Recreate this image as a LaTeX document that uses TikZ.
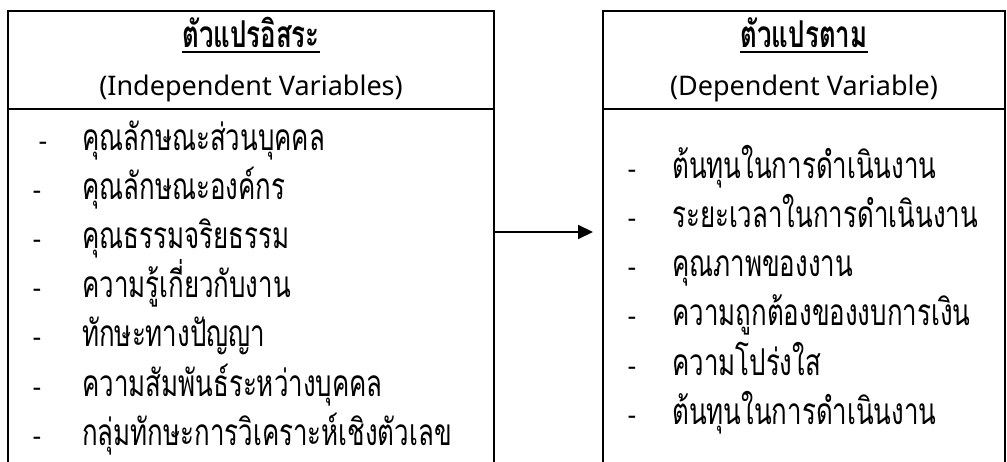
\documentclass[tikz,border=0pt]{standalone}
\usepackage{fontspec}
\setmainfont{Noto Sans}
\newfontfamily\thaifont[Script=Thai,FakeStretch=0.7]{Loma}
\usepackage{tikz}
\usetikzlibrary{arrows.meta}

\begin{document}
\begin{tikzpicture}[x=1pt,y=-1pt,
    item/.style={anchor=base west,inner sep=0pt,font=\thaifont\fontsize{37}{44}\selectfont},
    bullet/.style={anchor=base,inner sep=0pt,font=\fontsize{27}{32}\selectfont},
    head/.style={anchor=base,inner sep=0pt,font=\fontsize{27}{32}\selectfont},
    title/.style={anchor=base,inner sep=0pt,font=\thaifont\bfseries\fontsize{37}{44}\selectfont},
    frame/.style={line width=2pt}]
        \useasboundingbox (0,0) rectangle (1007,462);
        % left box
        \draw[frame] (8,462) -- (8,11) -- (494,11) -- (494,462);
        \draw[frame] (8,109) -- (494,109);
        % right box
        \draw[frame] (603,462) -- (603,11) -- (1005,11) -- (1005,462);
        \draw[frame] (603,109) -- (1005,109);
        \node[title] (indep) at (251,48) {ตัวแปรอิสระ};
        \draw[line width=1.3pt] ([yshift=-4pt]indep.base west) -- ([yshift=-4pt]indep.base east);
        \node[head] (indepen) at (251,96) {(Independent Variables)};
        \node[title] (dep) at (804,48) {ตัวแปรตาม};
        \draw[line width=1.3pt] ([yshift=-4pt]dep.base west) -- ([yshift=-4pt]dep.base east);
        \node[head] (depen) at (804,96) {(Dependent Variable)};
        % independent variables
        \node[bullet] (ib1) at (43,151) {-};
        \node[item] (iv1) at (82,151) {คุณลักษณะส่วนบุคคล};
        \node[bullet] (ib2) at (37,200) {-};
        \node[item] (iv2) at (82,200) {คุณลักษณะองค์กร};
        \node[bullet] (ib3) at (37,249) {-};
        \node[item] (iv3) at (82,249) {คุณธรรมจริยธรรม};
        \node[bullet] (ib4) at (37,298) {-};
        \node[item] (iv4) at (82,298) {ความรู้เกี่ยวกับงาน};
        \node[bullet] (ib5) at (37,347) {-};
        \node[item] (iv5) at (82,347) {ทักษะทางปัญญา};
        \node[bullet] (ib6) at (37,396) {-};
        \node[item] (iv6) at (82,396) {ความสัมพันธ์ระหว่างบุคคล};
        \node[bullet] (ib7) at (37,445) {-};
        \node[item] (iv7) at (82,445) {กลุ่มทักษะการวิเคราะห์เชิงตัวเลข};
        % dependent variables
        \node[bullet] (db1) at (632,179) {-};
        \node[item] (dv1) at (672,179) {ต้นทุนในการดำเนินงาน};
        \node[bullet] (db2) at (632,228) {-};
        \node[item] (dv2) at (672,228) {ระยะเวลาในการดำเนินงาน};
        \node[bullet] (db3) at (632,277) {-};
        \node[item] (dv3) at (672,277) {คุณภาพของงาน};
        \node[bullet] (db4) at (632,326) {-};
        \node[item] (dv4) at (672,326) {ความถูกต้องของงบการเงิน};
        \node[bullet] (db5) at (632,375) {-};
        \node[item] (dv5) at (672,375) {ความโปร่งใส};
        \node[bullet] (db6) at (632,424) {-};
        \node[item] (dv6) at (672,424) {ต้นทุนในการดำเนินงาน};
        % arrow
        \coordinate (from) at (494,232);
        \coordinate (to) at (593,232);
        \draw[-{Triangle[length=15pt,width=14pt]},line width=2pt] (from) -- (to);
    \end{tikzpicture}
\end{document}
